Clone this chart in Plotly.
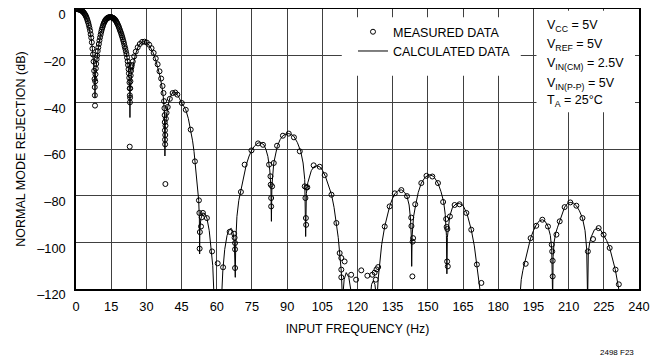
import plotly.graph_objects as go

# calculated response (Hz, dB); values below -120 are clipped by the axis
calc_freq = [
    0, 1, 2, 3, 4, 5, 5.8, 6.4, 7.0, 7.4, 7.8, 8.0, 8.1,
    8.2, 8.5, 9.0, 9.6, 10.6, 11.5, 12.4, 13.5, 14.5, 15.5, 16.7, 17.6, 18.4, 19.4, 20.3, 21.2, 22.0, 22.6, 22.9, 23.0,
    23.1, 23.6, 24.2, 25.3, 26.7, 28.3, 29.5, 30.5, 31.6, 32.7, 33.8, 34.8, 35.8, 36.7, 37.3, 37.7, 37.9,
    38.1, 38.6, 39.1, 40.1, 41.3, 42.2, 43.2, 44.1, 45.0, 46.0, 46.8, 47.9, 48.9, 49.7, 50.3, 50.8, 51.4, 51.9, 52.3, 52.6, 52.7,
    52.8, 53.2, 54.1, 55.0, 55.8, 56.8, 57.7, 58.3, 58.9,
    62.0, 62.6, 63.4, 64.4, 65.4, 66.2, 66.9, 67.5, 67.9,
    68.1, 68.6, 69.4, 70.2, 71.4, 72.6, 73.8, 75.0, 76.3, 77.6, 78.9, 80.1, 81.0, 81.8, 82.6, 83.1, 83.3,
    83.5, 84.3, 85.0, 85.8, 87.0, 88.2, 89.5, 90.7, 91.8, 92.9, 94.4, 95.8, 96.8, 97.5, 97.9,
    98.2, 98.8, 99.3, 100.3, 101.5, 102.7, 103.9, 105.1, 106.3, 107.6, 108.9, 110.0, 111.0, 111.8, 112.4, 113.1, 113.6,
    114.3, 115.2, 116.3, 117.4, 125.3, 126.0, 126.7, 127.4, 128.0,
    128.3, 128.8, 129.2, 130.3, 131.6, 132.6, 133.7, 134.8, 135.9, 137.3, 138.7, 140.0, 141.1, 142.0, 142.6, 142.95, 143.1,
    143.3, 143.9, 144.8, 145.9, 147.2, 148.9, 150.8, 152.5, 154.3, 155.6, 156.7, 157.4, 157.9, 158.1,
    158.3, 158.8, 159.3, 160.5, 162.1, 163.5, 165.0, 166.7, 168.5, 169.8, 170.9, 171.9, 172.8,
    189.1, 189.8, 190.5, 191.3, 192.5, 193.8, 195.0, 196.2, 197.5, 198.8, 200.0, 201.2, 202.2, 202.8, 203.2,
    203.4, 203.8, 204.5, 205.3, 206.2, 207.2, 208.3, 209.5, 210.7, 212.0, 213.3, 214.6, 215.9, 217.0, 217.7, 218.1,
    218.4, 219.0, 219.7, 221.0, 222.5, 223.7, 224.9, 226.2, 227.5, 228.7, 229.9, 231.3, 232.0,
]
calc_db = [
    0, -0.1, -0.4, -1.2, -2.6, -5.2, -8.5, -12.3, -17, -21.5, -27.5, -32, -38,
    -31, -25.5, -20, -16, -10.2, -7, -5, -3.9, -3.5, -3.7, -4.7, -6.2, -8.1, -10.9, -14, -17.8, -22.5, -28.5, -35, -46.5,
    -35, -28, -24.5, -19.6, -15.5, -14, -14.1, -14.8, -16.2, -18.3, -21.2, -24.6, -28.8, -33.5, -38.5, -45, -63,
    -50, -45, -42, -37.8, -35.6, -35.7, -36.7, -38.3, -40.3, -41.7, -43.2, -47, -51.7, -56.5, -61, -66, -72, -77.5, -82, -90, -105,
    -95, -90, -87.4, -87.8, -89.6, -95, -103, -110, -125,
    -125, -112, -103, -97, -94.5, -94, -95.5, -100, -115,
    -100, -89, -82, -78.2, -71.5, -66.7, -63, -60.3, -58.5, -57.4, -57.4, -58.2, -60.3, -63.2, -69, -77, -91,
    -76, -66, -62, -58.9, -56, -54.3, -53.6, -53.4, -53.8, -54.6, -57.3, -61, -66, -73, -97.5,
    -79, -74.5, -72.4, -69.3, -67.5, -67.2, -67.6, -69.2, -71.7, -75.3, -79.4, -85, -91.7, -98, -104.6, -112.5, -125,
    -116, -113, -115, -122, -125, -118, -116.5, -118, -125,
    -125, -116, -111, -101, -93.2, -88.5, -84.6, -81.5, -79.2, -77.8, -77.5, -78.5, -80.3, -84, -90, -98, -110.3,
    -97, -89, -83.9, -78.6, -74.6, -72, -71, -71.8, -74.6, -78.3, -82.5, -88, -97, -113.5,
    -98, -92, -88.9, -85, -83.5, -83.4, -84.2, -87.8, -94.6, -101.5, -109.6, -117, -125,
    -125, -116, -112, -108.9, -103, -98.2, -95, -92.5, -90.8, -90.3, -91, -93.2, -97, -103, -125,
    -106, -100, -96, -93.5, -91, -87.8, -84.9, -83.4, -82.9, -83.2, -84.3, -86.5, -89.6, -95, -103, -125,
    -104, -100, -97.5, -94.6, -93.9, -94.8, -96.7, -99.2, -102.4, -106.5, -111.7, -119.6, -125,
]

# measured points (Hz, dB)
meas_freq = [
    0, 0.25, 0.5, 0.75, 1, 1.25, 1.5, 1.75, 2, 2.25, 2.5, 2.75, 3, 3.25, 3.5, 3.75,
    4, 4.25, 4.5, 4.75, 5, 5.25, 5.5, 5.75, 6, 6.25, 6.5, 6.75, 7, 7.25, 7.5, 7.75,
    7.9, 8.0, 8.05, 8.1,
    8.2, 8.3, 8.45, 8.6, 8.8, 9.0, 9.25, 9.5, 9.75, 10, 10.25, 10.5, 10.75, 11, 11.25, 11.5, 11.75,
    12, 12.25, 12.5, 12.75, 13, 13.25, 13.5, 13.75, 14, 14.25, 14.5, 14.75, 15, 15.25, 15.5, 15.75,
    16, 16.25, 16.5, 16.75, 17, 17.25, 17.5, 17.75, 18, 18.25, 18.5, 18.75, 19, 19.25, 19.5, 19.75,
    20, 20.25, 20.5, 20.75, 21, 21.25, 21.5, 21.75, 22, 22.2, 22.4, 22.55, 22.7, 22.8, 22.9, 22.95, 23.0, 22.9,
    23.05, 23.1, 23.2, 23.3, 23.45, 23.6, 23.8, 24.2, 24.8, 25.5, 26.3, 27.2, 28.2, 29.2, 30.2, 31.2,
    32.2, 33.1, 34.0, 34.8, 35.6, 36.3, 36.9, 37.3, 37.55, 37.7, 37.8, 37.85, 37.9, 37.95, 38.1,
    38.0, 38.05, 38.15, 38.3, 38.6, 39.1, 40.0, 41.2, 42.3, 43.2, 45.1, 46.8, 48.9, 50.7,
    52.4, 52.6, 52.8, 52.7, 53.3, 53.6, 54.1, 55.8, 58.0, 60.4, 62.7, 65.5, 67.4, 67.6, 67.8, 67.8, 67.8,
    70.3, 71.9, 74.8, 77.6, 79.7, 82.3, 82.9, 83.0, 83.2, 83.2, 83.6, 84.3,
    85.7, 88.2, 90.7, 92.9, 95.4, 97.5, 97.8, 98.0, 98.1, 98.2, 98.6,
    101.3, 103.9, 106.0, 108.9, 111.0, 112.4, 113.1, 114.5, 113.1, 113.1,
    117.3, 119.4, 121.6, 124.2, 126.3, 127.3, 128.1, 128.8, 127.8,
    131.6, 133.7, 135.9, 138.7, 141.1, 142.9, 143.0, 143.7, 143.5, 143.4, 144.6,
    147.2, 149.4, 151.9, 154.3, 156.5, 157.8, 158.0, 158.3, 158.2, 158.5, 159.4,
    161.4, 163.5, 166.4, 168.5, 170.9, 172.8,
    191.7, 193.8, 196.2, 198.8, 201.2, 202.8, 203.0, 203.2, 203.2, 204.8, 206.2, 208.3, 210.7,
    213.3, 215.9, 218.2, 220.4, 222.8, 224.9, 227.5, 230.0, 231.4,
]
meas_db = [
    0, 0, 0, -0.1, -0.1, -0.2, -0.3, -0.35, -0.4, -0.6, -0.8, -1, -1.2, -1.5, -1.8, -2.2,
    -2.6, -3.1, -3.7, -4.4, -5.2, -6, -7, -8.1, -9.3, -10.8, -12.3, -14.3, -17, -19.5, -22.5, -26.5,
    -30, -33.5, -37, -41.4,
    -31, -28, -25.5, -23.5, -21.5, -20, -18, -16.5, -15, -13.5, -12.2, -11, -9.8, -8.8, -7.9, -7.1, -6.4,
    -5.8, -5.3, -4.8, -4.5, -4.2, -4, -3.8, -3.7, -3.6, -3.5, -3.5, -3.5, -3.5, -3.6, -3.7, -3.8,
    -4, -4.2, -4.4, -4.7, -5.1, -5.5, -6, -6.5, -7.1, -7.7, -8.4, -9.1, -9.8, -10.5, -11.3, -12.1,
    -13, -13.9, -14.9, -16, -17, -18.1, -19.3, -20.8, -22.4, -24, -25.8, -27.6, -29.5, -31.5, -34, -37, -40, -59,
    -38, -34, -31, -28.5, -26.5, -25, -24, -22.5, -20.3, -18.2, -16.4, -15, -14.1, -14, -14.4, -15.3,
    -16.8, -18.8, -21.2, -23.7, -26.7, -29.8, -33, -36, -39.5, -42.5, -45.5, -48.5, -52, -56, -75,
    -58, -54, -50, -47, -44.5, -42, -38.5, -36, -35.8, -36.7, -40.3, -43.2, -51.7, -65.3,
    -82, -87.4, -95.6, -102.7, -93.2, -89.3, -87.4, -89.6, -103.9, -109, -110.7, -95.5, -96.3, -98, -100.3, -103, -111,
    -78.4, -66.7, -60.6, -57.6, -58.2, -66.7, -71.7, -75.3, -81, -84.6, -76, -66,
    -58.6, -54.3, -53.4, -55, -61, -76, -81, -89.6, -92.5, -76.5, -76.4,
    -67, -67.6, -71.2, -79.6, -91.7, -104.6, -106.7, -108.2, -111.7, -115,
    -113.9, -116, -112, -114.3, -113.9, -113, -111.6, -110.6, -116,
    -93.2, -84.6, -79, -77.6, -80.2, -89.4, -93, -98.2, -99.7, -114.6, -83.7,
    -74.6, -71.5, -71.8, -74.6, -82.7, -90, -93.4, -94.3, -108.2, -110.3, -88.9,
    -84, -83.7, -87.4, -94.6, -109.5, -117.4,
    -109.2, -98.2, -92.9, -90.3, -93.2, -101, -103.9, -107.9, -114.6, -96.7, -91, -84.9, -82.9,
    -84.3, -89.6, -103.9, -98.6, -93.9, -96.7, -102.4, -111.7, -118,
]

x_ticks = list(range(0, 241, 15))
y_ticks = [0, -20, -40, -60, -80, -100, -120]
y_ticktext = ["0", "\u201320", "\u201340", "\u201360", "\u201380", "\u2013100", "\u2013120"]

conditions = [
    "V<sub>CC</sub> = 5V",
    "V<sub>REF</sub> = 5V",
    "V<sub>IN(CM)</sub> = 2.5V",
    "V<sub>IN(P-P)</sub> = 5V",
    "T<sub>A</sub> = 25\u00b0C",
]
cond_y = [-7.3, -15.3, -23.5, -32.0, -39.5]

FONT = "Liberation Sans, Arial, sans-serif"

fig = go.Figure()

fig.add_trace(go.Scatter(
    x=meas_freq, y=meas_db,
    mode="markers",
    name="MEASURED DATA",
    marker=dict(symbol="circle-open", size=5, color="black", line=dict(width=1, color="black")),
))

fig.add_trace(go.Scatter(
    x=calc_freq, y=calc_db,
    mode="lines",
    name="CALCULATED DATA",
    line=dict(color="black", width=1),
))

# white boxes behind the legend and the test conditions
fig.add_shape(type="rect", xref="x", yref="y", x0=113.3, x1=189.6, y0=-3.5, y1=-28.6,
              fillcolor="white", line=dict(width=0), layer="above")
fig.add_shape(type="rect", xref="x", yref="y", x0=196.3, x1=238.3, y0=-0.7, y1=-44.3,
              fillcolor="white", line=dict(width=0), layer="above")

for txt, yy in zip(conditions, cond_y):
    fig.add_annotation(x=199.8, y=yy, xref="x", yref="y", text=txt, showarrow=False,
                       xanchor="left", yanchor="middle",
                       font=dict(family=FONT, size=12.5, color="black"))

fig.add_annotation(x=0.994, y=-0.226, xref="paper", yref="paper", text="2498 F23",
                   showarrow=False, xanchor="right", yanchor="middle",
                   font=dict(family=FONT, size=8, color="black"))

# the page body adds an 8px offset, so margins are shifted to keep the plot in place
fig.update_layout(
    width=662, height=360,
    margin=dict(l=68, r=31, t=1, b=79, autoexpand=False),
    paper_bgcolor="white", plot_bgcolor="white",
    font=dict(family=FONT, size=12.5, color="black"),
    showlegend=True,
    legend=dict(
        x=0.492, y=0.971, xanchor="left", yanchor="top",
        bgcolor="rgba(0,0,0,0)", borderwidth=0,
        font=dict(family=FONT, size=12.5, color="black"),
        tracegroupgap=0,
    ),
    xaxis=dict(
        range=[0, 240], tickmode="array", tickvals=x_ticks, automargin=False,
        showgrid=True, gridcolor="#404040", gridwidth=1.3, zeroline=False,
        showline=True, mirror=True, linecolor="black", linewidth=1.5,
        ticks="outside", ticklen=5, tickcolor="rgba(0,0,0,0)",
        tickfont=dict(family=FONT, size=12.8),
        title=dict(text="INPUT FREQUENCY (Hz)", standoff=11, font=dict(family=FONT, size=12.3)),
    ),
    yaxis=dict(
        range=[-120, 0], tickmode="array", tickvals=y_ticks, ticktext=y_ticktext, automargin=False,
        showgrid=True, gridcolor="#404040", gridwidth=1.3, zeroline=False,
        showline=True, mirror=True, linecolor="black", linewidth=1.5,
        ticks="outside", ticklen=6, tickcolor="rgba(0,0,0,0)",
        ticklabelshift=6, ticklabeloverflow="allow",
        tickfont=dict(family=FONT, size=12.8),
        title=dict(text="NORMAL MODE REJECTION (dB)", standoff=9, font=dict(family=FONT, size=12.5)),
    ),
)

fig.write_html("out.html")
